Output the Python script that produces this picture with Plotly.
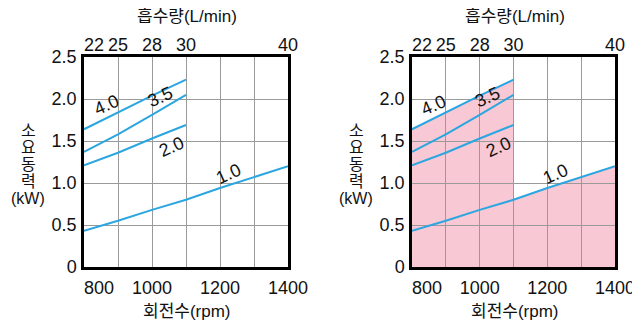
import plotly.graph_objects as go

# 회전수(rpm) vs 소요동력(kW), 압력별 곡선
RPM = [800, 900, 1000, 1100]
P_40 = [1.64, 1.84, 2.04, 2.23]
P_35 = [1.37, 1.58, 1.81, 2.05]
P_20 = [1.21, 1.36, 1.53, 1.69]
RPM_10 = [800, 900, 1000, 1100, 1200, 1300, 1400]
P_10 = [0.43, 0.55, 0.68, 0.80, 0.94, 1.07, 1.20]

RPM_TICKS = [800, 900, 1000, 1100, 1200, 1300, 1400]
RPM_LABELS = ["\u00a0" * 6 + "800", "", "1000", "", "1200", "", "1400"]
FLOW_TICKS = [800, 900, 1000, 1100, 1400]
FLOW_LABELS = ["\u00a0" * 4 + "22", "25", "28", "30", "40"]
KW_TICKS = [0, 0.5, 1.0, 1.5, 2.0, 2.5]
KW_LABELS = ["0", "0.5", "1.0", "1.5", "2.0", "2.5"]

CURVE_LABELS = ["4.0", "3.5", "2.0", "1.0"]
LABEL_POS = [(865, 1.93), (1024, 2.02), (1056, 1.43), (1224, 1.11)]
YTITLE = ["소", "요", "동", "력", "(kW)"]

BLUE = "#2BA6E0"
PINK = "#F8C8D4"
GRID = "#9A9A9A"
FONT = "Liberation Sans, Noto Sans CJK KR, Arial, sans-serif"

# 페이지 본문 여백(8px)을 감안한 크기
OFF = 8
W, H = 640 - OFF, 322 - OFF


def fx(px):
    return (px - OFF) / W


def fy(py):
    return 1 - (py - OFF) / H


DOM_L = [fx(84), fx(288)]
DOM_R = [fx(412), fx(615)]
DOM_Y = [fy(267), fy(57)]

fig = go.Figure()

# 분홍 영역 (격자 아래쪽 서브플롯)
fill_x = RPM + RPM_10[3:]
fill_y = P_40 + P_10[3:]
fig.add_scatter(x=fill_x, y=fill_y, xaxis="x2", yaxis="y2", mode="lines",
                line=dict(width=0), fill="tozeroy", fillcolor=PINK,
                hoverinfo="skip", showlegend=False)

for xa, ya in [("x", "y"), ("x3", "y3")]:
    for xs, ys in [(RPM, P_40), (RPM, P_35), (RPM, P_20), (RPM_10, P_10)]:
        fig.add_scatter(x=xs, y=ys, xaxis=xa, yaxis=ya, mode="lines",
                        line=dict(color=BLUE, width=2), showlegend=False)

# 상단 축(흡수량)용 보이지 않는 트레이스
for xa, ya in [("x4", "y"), ("x5", "y3")]:
    fig.add_scatter(x=FLOW_TICKS, y=[None] * len(FLOW_TICKS), xaxis=xa, yaxis=ya,
                    mode="lines", hoverinfo="skip", showlegend=False)

axis_common = dict(range=[800, 1400], tickvals=RPM_TICKS, ticktext=RPM_LABELS,
                   showgrid=True, gridcolor=GRID, gridwidth=1, zeroline=False,
                   showline=True, linecolor="black", linewidth=2.5, mirror=True,
                   ticks="", ticklabelstandoff=3, automargin=False, tickangle=0,
                   tickfont=dict(size=18, color="#111", family=FONT))
yaxis_common = dict(range=[0, 2.5], tickvals=KW_TICKS, ticktext=KW_LABELS,
                    showgrid=True, gridcolor=GRID, gridwidth=1, zeroline=False,
                    showline=True, linecolor="black", linewidth=2.5, mirror=True,
                    ticks="", ticklabelstandoff=1, domain=DOM_Y, automargin=False,
                    tickfont=dict(size=18, color="#111", family=FONT))
top_common = dict(range=[800, 1400], tickvals=FLOW_TICKS, ticktext=FLOW_LABELS,
                  side="top", showgrid=False, zeroline=False, showline=False,
                  ticks="", ticklabelstandoff=1, automargin=False, tickangle=0,
                  tickfont=dict(size=18, color="#111", family=FONT))
hidden = dict(visible=False, showgrid=False, zeroline=False, automargin=False)

fig.update_layout(
    width=W, height=H,
    margin=dict(l=0, r=0, t=0, b=0, autoexpand=False),
    paper_bgcolor="white", plot_bgcolor="rgba(0,0,0,0)",
    font=dict(family=FONT, color="#111"),
    xaxis=dict(**axis_common, domain=DOM_L, anchor="y"),
    yaxis=dict(**yaxis_common, anchor="x"),
    xaxis2=dict(**hidden, range=[800, 1400], domain=DOM_R, anchor="y2"),
    yaxis2=dict(**hidden, range=[0, 2.5], domain=DOM_Y, anchor="x2"),
    xaxis3=dict(**axis_common, domain=DOM_R, anchor="y3"),
    yaxis3=dict(**yaxis_common, anchor="x3"),
    xaxis4=dict(**top_common, overlaying="x", anchor="y"),
    xaxis5=dict(**top_common, overlaying="x3", anchor="y3"),
)

CENTER = dict(xanchor="center", yanchor="middle", showarrow=False)

for xref, yref, left in [("x", "y", 84), ("x3", "y3", 412)]:
    for txt, (px_, py_) in zip(CURVE_LABELS, LABEL_POS):
        fig.add_annotation(x=px_, y=py_, xref=xref, yref=yref, text=txt,
                           textangle=-24, font=dict(size=18, color="#111"),
                           **CENTER)
    mid = fx(left + 103)
    fig.add_annotation(x=mid, y=fy(17), xref="paper", yref="paper",
                       text="흡수량(L/min)", font=dict(size=17, color="#111"),
                       **CENTER)
    fig.add_annotation(x=mid, y=fy(311), xref="paper", yref="paper",
                       text="회전수(rpm)", font=dict(size=17, color="#111"),
                       **CENTER)
    for i, ch in enumerate(YTITLE):
        fig.add_annotation(x=fx(left - 56), y=fy(130 + 17 * i), xref="paper",
                           yref="paper", text=ch, font=dict(size=16, color="#111"),
                           **CENTER)

fig.write_html("out.html")
